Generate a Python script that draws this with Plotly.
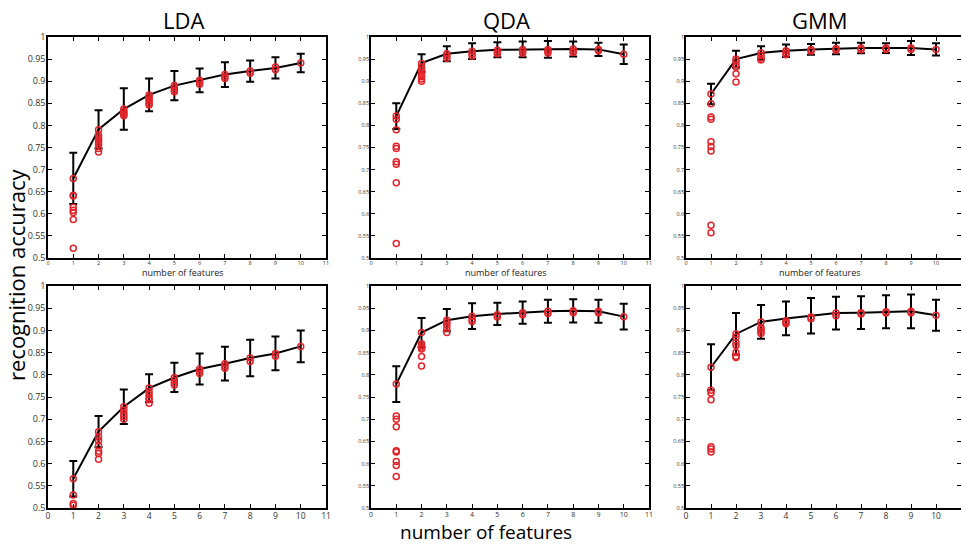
import plotly.graph_objects as go

# ---------------- data ----------------
features = list(range(1, 11))
x_ticks = list(range(0, 12))
x_ticks_right = list(range(0, 11))
y_ticks = [0.5, 0.55, 0.6, 0.65, 0.7, 0.75, 0.8, 0.85, 0.9, 0.95, 1.0]
y_tick_labels = ["0.5", "0.55", "0.6", "0.65", "0.7", "0.75", "0.8", "0.85", "0.9", "0.95", "1"]
titles = ["LDA", "QDA", "GMM"]
x_label = "number of features"
y_label = "recognition accuracy"

lda_top_mean = [0.680, 0.791, 0.837, 0.869, 0.890, 0.902, 0.915, 0.923, 0.930, 0.941]
lda_top_err = [0.058, 0.043, 0.047, 0.037, 0.033, 0.027, 0.028, 0.024, 0.024, 0.021]
lda_top_pts = [
    [0.680, 0.642, 0.640, 0.615, 0.608, 0.603, 0.587, 0.522],
    [0.790, 0.778, 0.772, 0.767, 0.762, 0.756, 0.748, 0.740],
    [0.837, 0.832, 0.828, 0.825, 0.822],
    [0.869, 0.864, 0.860, 0.855, 0.850, 0.846],
    [0.890, 0.885, 0.880, 0.876],
    [0.902, 0.898, 0.893],
    [0.915, 0.910, 0.906],
    [0.923, 0.918],
    [0.932, 0.926],
    [0.941],
]

qda_top_mean = [0.821, 0.941, 0.962, 0.968, 0.971, 0.972, 0.972, 0.973, 0.972, 0.961]
qda_top_err = [0.029, 0.020, 0.017, 0.018, 0.017, 0.018, 0.019, 0.017, 0.015, 0.022]
qda_top_pts = [
    [0.821, 0.814, 0.790, 0.753, 0.748, 0.718, 0.712, 0.670, 0.533],
    [0.940, 0.932, 0.926, 0.921, 0.915, 0.910, 0.905, 0.900],
    [0.962, 0.957, 0.952],
    [0.968, 0.962, 0.957],
    [0.970, 0.965, 0.962],
    [0.972, 0.967, 0.963],
    [0.972, 0.968, 0.964],
    [0.973, 0.968, 0.965],
    [0.972, 0.969],
    [0.961],
]

gmm_top_mean = [0.871, 0.950, 0.964, 0.969, 0.972, 0.974, 0.975, 0.975, 0.975, 0.972]
gmm_top_err = [0.023, 0.019, 0.015, 0.014, 0.012, 0.013, 0.012, 0.011, 0.016, 0.014]
gmm_top_pts = [
    [0.871, 0.849, 0.819, 0.814, 0.763, 0.752, 0.742, 0.574, 0.557],
    [0.950, 0.945, 0.938, 0.932, 0.917, 0.898],
    [0.964, 0.958, 0.952, 0.948],
    [0.969, 0.964, 0.960],
    [0.972, 0.968],
    [0.974, 0.970],
    [0.975, 0.971],
    [0.975, 0.972],
    [0.975, 0.972],
    [0.972],
]

lda_bot_mean = [0.566, 0.672, 0.728, 0.770, 0.794, 0.813, 0.825, 0.838, 0.848, 0.864]
lda_bot_err = [0.040, 0.035, 0.039, 0.031, 0.033, 0.035, 0.038, 0.041, 0.038, 0.036]
lda_bot_pts = [
    [0.566, 0.529, 0.510, 0.506],
    [0.672, 0.660, 0.652, 0.640, 0.628, 0.623, 0.610],
    [0.728, 0.720, 0.712, 0.706, 0.700],
    [0.770, 0.762, 0.755, 0.748, 0.744, 0.736],
    [0.794, 0.788, 0.782, 0.777],
    [0.813, 0.808, 0.803],
    [0.825, 0.820, 0.815],
    [0.838, 0.830],
    [0.848, 0.842],
    [0.864],
]

qda_bot_mean = [0.779, 0.895, 0.923, 0.932, 0.937, 0.940, 0.943, 0.944, 0.943, 0.931]
qda_bot_err = [0.040, 0.033, 0.025, 0.029, 0.025, 0.025, 0.026, 0.026, 0.026, 0.029]
qda_bot_pts = [
    [0.779, 0.707, 0.700, 0.683, 0.629, 0.626, 0.605, 0.596, 0.571],
    [0.895, 0.870, 0.866, 0.862, 0.858, 0.841, 0.820],
    [0.923, 0.918, 0.912, 0.905, 0.895],
    [0.932, 0.925, 0.920],
    [0.935, 0.930],
    [0.940, 0.935],
    [0.943, 0.938],
    [0.944, 0.940],
    [0.943, 0.940],
    [0.931],
]

gmm_bot_mean = [0.817, 0.892, 0.919, 0.927, 0.933, 0.939, 0.940, 0.942, 0.943, 0.934]
gmm_bot_err = [0.052, 0.047, 0.038, 0.038, 0.040, 0.037, 0.037, 0.037, 0.038, 0.035]
gmm_bot_pts = [
    [0.817, 0.765, 0.759, 0.744, 0.638, 0.633, 0.626],
    [0.892, 0.885, 0.872, 0.866, 0.850, 0.842, 0.839],
    [0.919, 0.906, 0.902, 0.897, 0.893],
    [0.922, 0.918, 0.915],
    [0.930, 0.926],
    [0.939, 0.933],
    [0.940, 0.937],
    [0.942, 0.939],
    [0.943, 0.940],
    [0.934],
]

panels = [
    (lda_top_mean, lda_top_err, lda_top_pts),
    (qda_top_mean, qda_top_err, qda_top_pts),
    (gmm_top_mean, gmm_top_err, gmm_top_pts),
    (lda_bot_mean, lda_bot_err, lda_bot_pts),
    (qda_bot_mean, qda_bot_err, qda_bot_pts),
    (gmm_bot_mean, gmm_bot_err, gmm_bot_pts),
]

# ---------------- layout geometry ----------------
W, H = 961, 544
col_px = [(48, 326), (371, 649), (686, 961)]
row_px = [(37, 258), (286, 508)]
FONT = "Open Sans, Noto Sans, sans-serif"
RED = "#e3242b"

fig = go.Figure()
layout = dict(
    width=W, height=H,
    margin=dict(l=0, r=0, t=0, b=0, autoexpand=False),
    paper_bgcolor="white", plot_bgcolor="white",
    showlegend=False,
    font=dict(family=FONT, color="#222"),
)

annotations = []
for i, (mean, err, pts) in enumerate(panels):
    r, c = divmod(i, 3)
    n = i + 1
    xa = "x" if n == 1 else f"x{n}"
    ya = "y" if n == 1 else f"y{n}"
    xkey = "xaxis" if n == 1 else f"xaxis{n}"
    ykey = "yaxis" if n == 1 else f"yaxis{n}"

    fig.add_trace(go.Scatter(
        x=features, y=mean, mode="lines",
        line=dict(color="black", width=2),
        error_y=dict(type="data", array=err, visible=True,
                     color="black", thickness=2, width=4),
        xaxis=xa, yaxis=ya, hoverinfo="skip",
    ))
    px_, py_ = [], []
    for f, vals in zip(features, pts):
        for v in vals:
            px_.append(f)
            py_.append(v)
    fig.add_trace(go.Scatter(
        x=px_, y=py_, mode="markers",
        marker=dict(symbol="circle-open", size=6, color=RED,
                    line=dict(color=RED, width=1.5)),
        xaxis=xa, yaxis=ya,
    ))

    x0, x1 = col_px[c]
    y0, y1 = row_px[r]
    if r == 0:
        x_font = 5.5
    elif c == 1:
        x_font = 7
    else:
        x_font = 8.5
    y_font = 9 if c == 0 else 5.5
    xt = x_ticks_right if c == 2 else x_ticks
    layout[xkey] = dict(
        domain=[x0 / W, x1 / W], range=[0, 11], anchor=ya,
        tickmode="array", tickvals=xt, ticktext=[str(t) for t in xt],
        ticks="inside", ticklen=4, tickwidth=1, tickcolor="black",
        showline=True, linecolor="black", linewidth=1.5, mirror="ticks",
        showgrid=False, zeroline=False, ticklabelstandoff=-1,
        tickfont=dict(size=x_font, color="#333"),
    )
    layout[ykey] = dict(
        domain=[1 - y1 / H, 1 - y0 / H], range=[0.5, 1.0], anchor=xa,
        tickmode="array", tickvals=y_ticks, ticktext=y_tick_labels,
        ticks="inside", ticklen=4, tickwidth=1, tickcolor="black",
        showline=True, linecolor="black", linewidth=1.5, mirror="ticks",
        showgrid=False, zeroline=False, ticklabelstandoff=-1,
        tickfont=dict(size=y_font, color="#333"),
    )

    if r == 0:
        annotations.append(dict(
            text=titles[c], x=(x0 + x1) / 2 / W - 0.004, y=1 - 20 / H,
            xref="paper", yref="paper", showarrow=False,
            font=dict(size=22, family=FONT, color="black"),
            xanchor="center", yanchor="middle",
        ))
        annotations.append(dict(
            text=x_label, x=(x0 + x1) / 2 / W - 0.004, y=1 - 272 / H,
            xref="paper", yref="paper", showarrow=False,
            font=dict(size=9, family=FONT, color="#222"),
            xanchor="center", yanchor="middle",
        ))

annotations.append(dict(
    text=x_label, x=486 / W, y=1 - 532 / H, xref="paper", yref="paper",
    showarrow=False, font=dict(size=19, family=FONT, color="black"),
    xanchor="center", yanchor="middle", borderpad=0,
))
annotations.append(dict(
    text=y_label, x=16 / W, y=1 - 275 / H, xref="paper", yref="paper",
    showarrow=False, textangle=-90, font=dict(size=22, family=FONT, color="black"),
    xanchor="center", yanchor="middle",
))
layout["annotations"] = annotations

fig.update_layout(**layout)
fig.write_html(
    "out.html",
    config={"displayModeBar": False},
    post_script="document.body.style.margin='0';document.body.style.overflow='hidden';",
)
